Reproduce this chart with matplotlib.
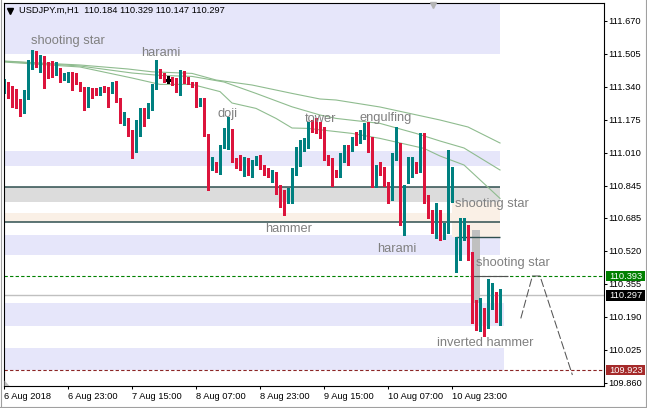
import matplotlib
matplotlib.use('Agg')
import matplotlib.pyplot as plt
from matplotlib.patches import Rectangle, Polygon
from matplotlib.lines import Line2D
import matplotlib.transforms as mtransforms

plt.rcParams['font.family'] = ['Liberation Sans', 'DejaVu Sans']

# ---------------- data ----------------
opens = [111.316, 111.345, 111.314, 111.304, 111.262, 111.212, 111.283, 111.452, 111.469, 111.457,
         111.482, 111.452, 111.429, 111.415, 111.419, 111.384, 111.389, 111.395, 111.390, 111.360,
         111.332, 111.252, 111.329, 111.315, 111.310, 111.335, 111.330, 111.315, 111.357, 111.274,
         111.165, 111.165, 111.115, 111.020, 111.099, 111.224, 111.185, 111.229, 111.332, 111.410,
         111.399, 111.374, 111.377, 111.369, 111.340, 111.399, 111.385, 111.362, 111.362, 111.249,
         111.274, 111.099, 110.932, 110.957, 110.920, 111.035, 111.119, 111.119, 110.969, 110.957,
         110.945, 110.965, 110.899, 110.957, 110.990, 110.940, 110.927, 110.869, 110.902, 110.815,
         110.815, 110.769, 110.795, 110.907, 110.949, 111.024, 111.035, 111.149, 111.132, 111.132,
         111.129, 110.982, 110.969, 110.915, 110.895, 110.974, 111.029, 111.024, 111.082, 111.065,
         111.082, 111.152, 111.082, 110.849, 110.932, 110.924, 110.857, 110.782, 110.982, 111.007,
         110.657, 110.864, 110.924, 110.940, 110.920, 111.040, 110.766, 110.699, 110.649, 110.707,
         110.579, 110.616, 110.774, 110.440, 110.482, 110.582, 110.624, 110.499, 110.177, 110.145,
         110.215, 110.140, 110.232, 110.265, 110.184]
highs = [111.379, 111.366, 111.344, 111.327, 111.279, 111.324, 111.474, 111.524, 111.519, 111.499,
         111.494, 111.465, 111.469, 111.462, 111.432, 111.409, 111.415, 111.415, 111.407, 111.365,
         111.340, 111.340, 111.332, 111.332, 111.340, 111.344, 111.340, 111.365, 111.369, 111.283,
         111.215, 111.182, 111.124, 111.174, 111.235, 111.235, 111.260, 111.352, 111.474, 111.429,
         111.407, 111.395, 111.390, 111.382, 111.424, 111.419, 111.390, 111.365, 111.365, 111.283,
         111.283, 111.102, 110.990, 110.965, 111.049, 111.132, 111.190, 111.129, 110.982, 110.999,
         110.990, 110.982, 110.974, 110.994, 110.999, 110.949, 110.932, 110.924, 110.915, 110.849,
         110.824, 110.832, 110.932, 111.040, 111.074, 111.082, 111.165, 111.174, 111.182, 111.165,
         111.139, 110.999, 110.982, 110.924, 111.007, 111.049, 111.049, 111.090, 111.115, 111.124,
         111.157, 111.165, 111.090, 110.949, 110.965, 110.940, 110.865, 111.007, 111.140, 111.057,
         110.849, 110.990, 110.990, 110.965, 111.107, 111.107, 110.799, 110.724, 110.757, 110.724,
         110.657, 111.024, 110.941, 110.590, 110.682, 110.684, 110.649, 110.514, 110.274, 110.282,
         110.232, 110.377, 110.360, 110.312, 110.329]
lows = [111.309, 111.283, 111.240, 111.235, 111.195, 111.207, 111.279, 111.429, 111.440, 111.415,
        111.332, 111.382, 111.390, 111.399, 111.365, 111.374, 111.365, 111.324, 111.352, 111.319,
        111.224, 111.240, 111.283, 111.299, 111.299, 111.315, 111.240, 111.307, 111.265, 111.157,
        111.149, 111.095, 110.982, 111.015, 111.095, 111.145, 111.182, 111.224, 111.327, 111.382,
        111.365, 111.357, 111.349, 111.315, 111.299, 111.357, 111.352, 111.340, 111.237, 111.245,
        111.095, 110.824, 110.924, 110.912, 110.902, 111.032, 111.029, 110.962, 110.932, 110.924,
        110.895, 110.899, 110.890, 110.949, 110.929, 110.899, 110.890, 110.862, 110.802, 110.740,
        110.699, 110.757, 110.757, 110.899, 110.945, 111.019, 111.032, 111.115, 111.107, 111.082,
        110.974, 110.949, 110.845, 110.887, 110.890, 110.965, 110.949, 111.019, 111.049, 111.057,
        111.079, 111.015, 110.840, 110.840, 110.899, 110.844, 110.757, 110.774, 110.974, 110.649,
        110.599, 110.857, 110.890, 110.907, 110.915, 110.757, 110.682, 110.609, 110.582, 110.574,
        110.577, 110.607, 110.764, 110.415, 110.474, 110.574, 110.474, 110.159, 110.124, 110.120,
        110.094, 110.132, 110.227, 110.165, 110.147]
closes = [111.369, 111.310, 111.299, 111.262, 111.207, 111.287, 111.432, 111.469, 111.445, 111.485,
          111.424, 111.424, 111.415, 111.422, 111.390, 111.395, 111.399, 111.385, 111.357, 111.332,
          111.252, 111.332, 111.307, 111.304, 111.335, 111.327, 111.315, 111.354, 111.274, 111.165,
          111.174, 111.115, 111.020, 111.099, 111.224, 111.185, 111.229, 111.340, 111.415, 111.395,
          111.370, 111.374, 111.355, 111.340, 111.407, 111.382, 111.362, 111.357, 111.244, 111.274,
          111.099, 110.932, 110.957, 110.920, 111.040, 111.124, 111.121, 110.965, 110.949, 110.949,
          110.965, 110.902, 110.962, 110.982, 110.935, 110.902, 110.912, 110.907, 110.812, 110.802,
          110.769, 110.799, 110.915, 110.952, 111.029, 111.040, 111.129, 111.132, 111.112, 111.112,
          110.982, 110.957, 110.915, 110.895, 110.999, 110.999, 110.979, 111.065, 111.057, 111.099,
          111.152, 111.074, 110.849, 110.932, 110.915, 110.849, 110.782, 110.982, 110.999, 110.657,
          110.840, 110.924, 110.940, 110.915, 111.032, 110.774, 110.690, 110.649, 110.704, 110.599,
          110.616, 110.807, 110.929, 110.490, 110.624, 110.624, 110.477, 110.177, 110.149, 110.190,
          110.149, 110.240, 110.257, 110.177, 110.297]

# moving averages (bar index, price)
ma_slow_idx = [0, 9, 19, 31, 37, 47, 53, 62, 72, 79, 83, 94, 109, 116, 124]
ma_slow_val = [111.469, 111.459, 111.449, 111.429, 111.415, 111.407, 111.374, 111.349, 111.307,
               111.279, 111.274, 111.239, 111.174, 111.139, 111.059]
ma_mid_idx = [0, 9, 19, 32, 39, 47, 55, 63, 72, 79, 83, 94, 103, 109, 115, 124]
ma_mid_val = [111.467, 111.457, 111.444, 111.409, 111.397, 111.392, 111.364, 111.307, 111.240,
              111.199, 111.182, 111.157, 111.107, 111.069, 111.034, 110.924]
ma_fast_idx = [0, 9, 19, 32, 39, 47, 54, 57, 63, 68, 72, 76, 87, 94, 105, 109, 115, 124]
ma_fast_val = [111.464, 111.452, 111.439, 111.384, 111.352, 111.352, 111.316, 111.259, 111.232,
               111.182, 111.134, 111.132, 111.107, 111.082, 111.032, 110.994, 110.949, 110.782]

# zones (price low, price high)
lavender_zones = [(111.504, 111.760), (110.944, 111.019), (110.499, 110.599)]
lavender_zones_low = [(110.146, 110.260), (109.924, 110.034)]
gray_zone = (110.765, 110.840)
linen_zone = (110.662, 110.710)
linen_box = (110.589, 110.765)
silver_box = (110.259, 110.624)
level_lines = [110.8405, 110.662]
box_line = 110.589

resistance = 110.393
current = 110.297
target = 109.923
proj_x = [129.2, 132.1, 134.0, 142.1]
proj_y = [110.182, 110.394, 110.394, 109.899]

ytick_vals = [111.670, 111.505, 111.340, 111.175, 111.010, 110.845, 110.685, 110.520,
              110.355, 110.190, 110.025, 109.860]
xtick_idx = [0, 16, 32, 48, 64, 80, 96, 112]
xtick_lbl = ['6 Aug 2018', '6 Aug 23:00', '7 Aug 15:00', '8 Aug 07:00', '8 Aug 23:00',
             '9 Aug 15:00', '10 Aug 07:00', '10 Aug 23:00']

pattern_text = ['shooting star', 'harami', 'doji', 'tower', 'engulfing', 'hammer', 'harami',
                'shooting star', 'shooting star', 'inverted hammer']
pattern_x = [6.75, 34.4, 53.5, 75.25, 88.75, 65.25, 93.2, 112.75, 118.0, 108.3]
pattern_y = [111.554, 111.494, 111.187, 111.166, 111.169, 110.616, 110.516, 110.739, 110.444, 110.046]

header = 'USDJPY.m,H1  110.184 110.329 110.147 110.297'

# ---------------- figure ----------------
W, H = 647, 408
fig = plt.figure(figsize=(W / 100, H / 100), dpi=100)
fig.patch.set_facecolor('white')
ax = fig.add_axes([3.5 / W, (H - 386) / H, 600 / W, 383 / H])
ax.set_facecolor('white')
ax.set_xlim(-0.125, 149.875)
ax.set_ylim(109.844, 111.759)

XL = -0.125
LAV = '#E6E6FA'
for lo, hi in lavender_zones:
    ax.add_patch(Rectangle((XL, lo), 124 - XL, hi - lo, facecolor=LAV, edgecolor='none', zorder=0.5))
for lo, hi in lavender_zones_low:
    ax.add_patch(Rectangle((XL, lo), 124.9 - XL, hi - lo, facecolor=LAV, edgecolor='none', zorder=0.5))
ax.add_patch(Rectangle((XL, gray_zone[0]), 124 - XL, gray_zone[1] - gray_zone[0],
                       facecolor='#DCDCDC', edgecolor='none', zorder=0.5))
ax.add_patch(Rectangle((XL, linen_zone[0]), 124 - XL, linen_zone[1] - linen_zone[0],
                       facecolor='#FAF0E6', edgecolor='none', zorder=0.5))
ax.add_patch(Rectangle((112, linen_box[0]), 12, linen_box[1] - linen_box[0],
                       facecolor='#FAF0E6', edgecolor='none', zorder=0.6))
ax.add_patch(Rectangle((116.9, silver_box[0]), 2.1, silver_box[1] - silver_box[0],
                       facecolor='#C0C0C0', edgecolor='none', zorder=0.7))
for lv in level_lines:
    ax.hlines(lv, XL, 124, color='#2F4F4F', lw=1.1, zorder=1)
ax.hlines(box_line, 113, 124, color='#2F4F4F', lw=1.0, zorder=1)

ax.axhline(resistance, color='#008000', lw=0.8, ls=(0, (3, 2)), zorder=1)
ax.axhline(current, color='#C0C0C0', lw=1.0, zorder=1)
ax.axhline(target, color='#8B2525', lw=0.8, ls=(0, (3, 2)), zorder=1)
ax.hlines(resistance, 116.5, 126, color='#505050', lw=0.8, zorder=1.1)

ma_col = '#8FBC8F'
ax.plot(ma_slow_idx, ma_slow_val, color=ma_col, lw=0.8, zorder=1.5)
ax.plot(ma_mid_idx, ma_mid_val, color=ma_col, lw=0.8, zorder=1.5)
ax.plot(ma_fast_idx, ma_fast_val, color=ma_col, lw=0.8, zorder=1.5)

BULL, BEAR = '#008080', '#DC143C'
for i, (o, h, l, c) in enumerate(zip(opens, highs, lows, closes)):
    col = BULL if c > o else (BEAR if c < o else 'black')
    ax.vlines(i, l, h, color=col, lw=0.75, zorder=2, antialiased=False)
    if c == o:
        ax.hlines(o, i - 0.45, i + 0.45, color=col, lw=0.75, zorder=2, antialiased=False)
    else:
        lo, hi = min(o, c), max(o, c)
        ax.add_patch(Rectangle((i - 0.375, lo), 0.75, max(hi - lo, 0.005), facecolor=col,
                               edgecolor='none', zorder=2, antialiased=False))

ax.plot(proj_x, proj_y, color='#555555', lw=0.75, ls=(0, (8, 2.5)), zorder=2)

for t, x, y in zip(pattern_text, pattern_x, pattern_y):
    ax.text(x, y, t, color='#808080', fontsize=9.3, ha='left', va='baseline', zorder=3)

# axes styling
for s in ax.spines.values():
    s.set_color('black')
    s.set_linewidth(0.8)
ax.yaxis.tick_right()
ax.set_yticks(ytick_vals)
ax.set_yticklabels(['%.3f' % v for v in ytick_vals])
ax.tick_params(axis='y', direction='out', length=2.2, width=0.75, pad=1.5, labelsize=6.7, colors='black')
ax.set_xticks(xtick_idx)
ax.set_xticklabels(xtick_lbl, ha='left')
ax.tick_params(axis='x', direction='out', length=2.2, width=0.75, pad=2.0, labelsize=6.7, colors='black')

# price boxes on the right axis
trans = mtransforms.blended_transform_factory(fig.transFigure, ax.transData)
for val, fc in [(resistance, '#008000'), (current, '#000000'), (target, '#A52A2A')]:
    ax.add_patch(Rectangle((606 / W, val - 0.026), 39 / W, 0.052, transform=trans,
                           facecolor=fc, edgecolor='none', clip_on=False, zorder=5))
    ax.text(609 / W, val, '%.3f' % val, transform=trans, color='white', fontsize=6.7,
            va='center', ha='left', clip_on=False, zorder=6)

# header
fig.text(19.3 / W, 1 - 10.3 / H, header, fontsize=6.7, color='black', va='center', ha='left')
fig.add_artist(Line2D([10 / W], [1 - 10.5 / H], marker='v', ms=4.2, color='black',
                      mec='black', transform=fig.transFigure))
# chart shift marker and corner marker
fig.add_artist(Line2D([433.5 / W], [1 - 5.2 / H], marker='v', ms=5, color='#B4B4B4',
                      mec='#B4B4B4', transform=fig.transFigure))
fig.add_artist(Polygon([(4.5 / W, 1 - 386 / H), (4.5 / W, 1 - 380.5 / H), (9.5 / W, 1 - 386 / H)],
                       closed=True, facecolor='#C0C0C0', edgecolor='none', transform=fig.transFigure))
# window borders
for xs, ys in [([645.5 / W, 645.5 / W], [0, 1]), ([0, 1], [1 - 406.5 / H, 1 - 406.5 / H]),
               ([0.5 / W, 0.5 / W], [0, 1])]:
    fig.add_artist(Line2D(xs, ys, color='#A0A0A0', lw=0.8, transform=fig.transFigure))

fig.savefig('out.png', dpi=100, facecolor='white')
